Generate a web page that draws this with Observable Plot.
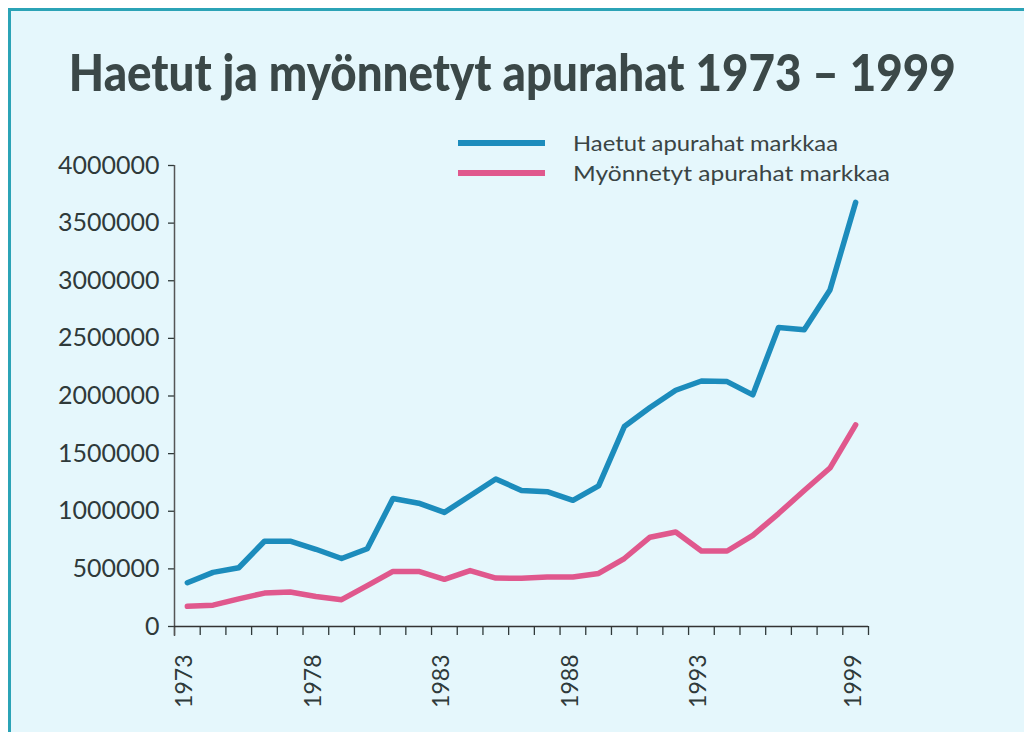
<!DOCTYPE html>
<html><head><meta charset="utf-8">
<script src="https://cdn.jsdelivr.net/npm/d3@7"></script>
<script src="https://cdn.jsdelivr.net/npm/@observablehq/plot@0.6"></script>
<style>
html,body{margin:0;padding:0;background:#fff;}
#page{position:relative;width:1024px;height:732px;overflow:hidden;background:#fff;}
#frame{position:absolute;left:8px;top:8px;width:1100px;height:800px;border-top:3px solid #2ba3b6;border-left:3px solid #2ba3b6;background:#e5f7fc;}
#title{position:absolute;left:0;top:45px;width:1024px;text-align:center;white-space:nowrap;line-height:52px;}
#title span{display:inline-block;font-family:Lato,"DejaVu Sans",sans-serif;font-weight:900;font-size:52px;color:#3b4848;transform-origin:50% 50%;}
#chart{position:absolute;left:0;top:0;}
.leg{position:absolute;font-family:Lato,"DejaVu Sans",sans-serif;font-size:21px;color:#3a4444;white-space:nowrap;line-height:22px;transform-origin:0 50%;}
.sw{position:absolute;height:6px;width:87px;}
</style></head>
<body>
<div id="page">
  <div id="frame"></div>
  <div id="title"><span id="titletext">Haetut ja myönnetyt apurahat 1973 – 1999</span></div>
  <div id="chart"></div>
  <div class="sw" id="sw1" style="left:458px;top:140px;"></div>
  <div class="leg" id="lg1" style="left:573px;top:132px;"></div>
  <div class="sw" id="sw2" style="left:458px;top:170px;"></div>
  <div class="leg" id="lg2" style="left:573px;top:162px;"></div>
</div>
<script>
const years = [1973,1974,1975,1976,1977,1978,1979,1980,1981,1982,1983,1984,1985,1986,1987,1988,1989,1990,1991,1992,1993,1994,1995,1996,1997,1998,1999];
const haetut = [380000,470000,510000,740000,740000,670000,590000,675000,1110000,1070000,990000,1135000,1280000,1180000,1170000,1095000,1220000,1735000,1900000,2050000,2130000,2125000,2010000,2595000,2575000,2920000,3680000];
const myonnetyt = [175000,185000,240000,290000,300000,260000,233000,355000,478000,478000,409000,485000,420000,418000,430000,430000,460000,590000,775000,820000,655000,655000,790000,980000,1180000,1375000,1750000];
const seriesNames = ["Haetut apurahat markkaa","Myönnetyt apurahat markkaa"];
const seriesColors = ["#1c8cbc","#e0588d"];
const yTicks = [0,500000,1000000,1500000,2000000,2500000,3000000,3500000,4000000];
const xLabelYears = [1973,1978,1983,1988,1993,1999];

const rows = [];
years.forEach((yr,i)=>{
  rows.push({year:yr, value:haetut[i], series:seriesNames[0]});
  rows.push({year:yr, value:myonnetyt[i], series:seriesNames[1]});
});
const boundaries = d3.range(years[0]-0.5, years[years.length-1]+1, 1);
const font = "Lato, 'DejaVu Sans', sans-serif";

const chart = Plot.plot({
  width:1024, height:732,
  marginLeft:174, marginRight:156, marginTop:165, marginBottom:106,
  style:{background:"transparent", color:"#2f3a3a", fontFamily:font},
  x:{type:"linear", domain:[years[0]-0.5, years[years.length-1]+0.5], axis:null},
  y:{domain:[0,4000000], axis:null},
  color:{domain:seriesNames, range:seriesColors},
  marks:[
    Plot.axisY(yTicks, {tickSize:6, tickPadding:9, tickFormat:d=>String(d), fontSize:25, fontWeight:400, fontFamily:font, label:null, strokeWidth:1.3}),
    Plot.axisX(boundaries, {tickSize:9, tickFormat:()=>"", label:null, strokeWidth:1.3}),
    Plot.ruleX([years[0]-0.5], {insetBottom:-10, stroke:"#555", strokeWidth:1.5}),
    Plot.ruleY([0], {stroke:"#333", strokeWidth:1.5}),
    Plot.lineY(rows, {x:"year", y:"value", z:"series", stroke:"series", strokeWidth:5.5, strokeLinejoin:"round"}),
    Plot.text(xLabelYears, {x:d=>d, text:d=>String(d), frameAnchor:"bottom", dx:5, dy:28, rotate:-90, textAnchor:"end", fontSize:23, fontWeight:400, fontFamily:font, fill:"#2f3a3a"})
  ]
});
document.getElementById("chart").appendChild(chart);

document.getElementById("sw1").style.background = seriesColors[0];
document.getElementById("sw2").style.background = seriesColors[1];
const lg1 = document.getElementById("lg1"), lg2 = document.getElementById("lg2");
lg1.textContent = seriesNames[0];
lg2.textContent = seriesNames[1];
lg1.style.transform = `scaleX(${265/lg1.getBoundingClientRect().width})`;
lg2.style.transform = `scaleX(${317/lg2.getBoundingClientRect().width})`;

const t = document.getElementById("titletext");
const w = t.getBoundingClientRect().width;
t.style.transform = `scaleX(${887/w})`;
</script>
</body></html>
